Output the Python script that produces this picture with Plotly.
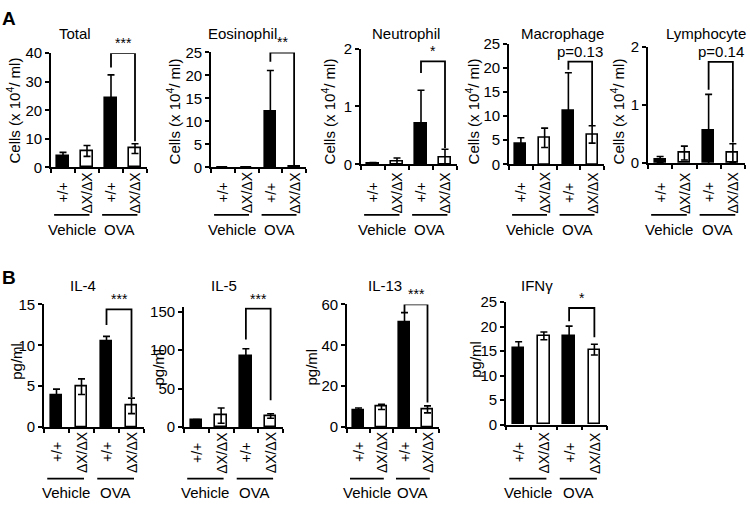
import numpy as np
import plotly.graph_objects as go

# ---------------- data ----------------
genotypes = ["+/+", "ΔX/ΔX", "+/+", "ΔX/ΔX"]
treatments = ["Vehicle", "OVA"]
bar_fill = ["black", "white", "black", "white"]

total_mean = [4.0, 5.8, 24.4, 6.6]
total_err = [1.3, 1.9, 8.0, 1.7]
eos_mean = [0.05, 0.05, 12.2, 0.2]
eos_err = [0.03, 0.03, 8.9, 0.1]
neu_mean = [0.02, 0.055, 0.71, 0.11]
neu_err = [0.01, 0.055, 0.57, 0.15]
mac_mean = [4.2, 5.5, 11.1, 6.2]
mac_err = [1.3, 2.0, 7.9, 1.8]
lym_mean = [0.06, 0.17, 0.56, 0.17]
lym_err = [0.05, 0.12, 0.62, 0.16]
il4_mean = [3.85, 4.95, 10.5, 2.6]
il4_err = [0.8, 0.95, 0.6, 0.95]
il5_mean = [9, 15, 92, 14.5]
il5_err = [1, 10, 10, 3]
il13_mean = [8.4, 9.9, 51, 8.7]
il13_err = [1.0, 1.3, 5.0, 1.7]
ifng_mean = [15.7, 18.1, 18.1, 15.3]
ifng_err = [1.2, 0.8, 2.0, 1.1]

# brackets: [top, left-leg end, right-leg end] in data units
total_br = [40, 35, 9.2]
eos_br = [25, 23, 0.4]
neu_br = [1.78, 1.58, 0.28]
mac_br = [21.3, 19.6, 8.1]
lym_br = [1.74, 1.26, 0.35]
il4_br = [14.4, 12.5, 3.7]
il5_br = [154, 114, 35]
il13_br = [60, 56, 12]
ifng_br = [23.8, 21.1, 17.8]
sig_labels = ["***", "**", "*", "p=0.13", "p=0.14", "***", "***", "***", "*"]

cells_label = "Cells (x 10<sup>4</sup>/ ml)"
conc_label = "pg/ml"

# ---------------- layout helpers ----------------
W, H = 750, 506
FONT = "Arial, Liberation Sans, sans-serif"


def fx(p):
    return p / W


def fy(p):
    return 1 - p / H


panels = [
    dict(title="Total", ylab=cells_label, mean=total_mean, err=total_err, ymax=40, dtick=10, br=total_br,
         ax=(51, 147), ay=(45.7, 164), tpos=(75, 25), lpos=(13, 105), cat=190, line=213, grp=228),
    dict(title="Eosinophil", ylab=cells_label, mean=eos_mean, err=eos_err, ymax=25, dtick=5, br=eos_br,
         ax=(211, 306), ay=(45, 164), tpos=(242, 25), lpos=(173, 106), cat=190, line=213, grp=228),
    dict(title="Neutrophil", ylab=cells_label, mean=neu_mean, err=neu_err, ymax=2, dtick=1, br=neu_br,
         ax=(361, 457), ay=(41, 160.7), tpos=(406, 25), lpos=(328, 106), cat=190, line=213, grp=228),
    dict(title="Macrophage", ylab=cells_label, mean=mac_mean, err=mac_err, ymax=25, dtick=5, br=mac_br,
         ax=(509, 604), ay=(36, 160.7), tpos=(562, 25), lpos=(472, 106), cat=190, line=213, grp=228),
    dict(title="Lymphocyte", ylab=cells_label, mean=lym_mean, err=lym_err, ymax=2, dtick=1, br=lym_br,
         ax=(648, 745), ay=(39, 159.3), tpos=(706, 25), lpos=(617, 106), cat=190, line=213, grp=228),
    dict(title="IL-4", ylab=conc_label, mean=il4_mean, err=il4_err, ymax=15, dtick=5, br=il4_br,
         ax=(44, 144), ay=(305.7, 432.7), tpos=(83, 286), lpos=(17, 365), cat=459, line=486, grp=500),
    dict(title="IL-5", ylab=conc_label, mean=il5_mean, err=il5_err, ymax=150, dtick=50, br=il5_br,
         ax=(184, 283), ay=(313.3, 432.7), tpos=(224, 286), lpos=(159, 371), cat=459, line=486, grp=500,
         ylim=156),
    dict(title="IL-13", ylab=conc_label, mean=il13_mean, err=il13_err, ymax=60, dtick=20, br=il13_br,
         ax=(347, 439), ay=(305.7, 432.7), tpos=(385, 286), lpos=(312, 371), cat=459, line=486, grp=500),
    dict(title="IFNγ", ylab=conc_label, mean=ifng_mean, err=ifng_err, ymax=25, dtick=5, br=ifng_br,
         ax=(506, 607), ay=(303.3, 430), tpos=(537, 286), lpos=(476, 363), cat=459, line=486, grp=500),
]

fig = go.Figure()
annotations = []
shapes = []
layout_axes = {}

for i, p in enumerate(panels):
    n = i + 1
    xa = "x" if n == 1 else f"x{n}"
    ya = "y" if n == 1 else f"y{n}"
    xpos = np.arange(len(genotypes)) + 0.5

    fig.add_trace(go.Bar(
        x=xpos, y=p["mean"], width=0.46, xaxis=xa, yaxis=ya,
        marker=dict(color=bar_fill, line=dict(color="black", width=1.6)),
        error_y=dict(type="data", array=p["err"], color="black", thickness=1.6, width=3.5),
        showlegend=False, hoverinfo="skip",
    ))
    top, lend, rend = p["br"]
    fig.add_trace(go.Scatter(
        x=[xpos[2], xpos[2], xpos[3], xpos[3]], y=[lend, top, top, rend],
        mode="lines", line=dict(color="black", width=1.8), xaxis=xa, yaxis=ya,
        showlegend=False, hoverinfo="skip",
    ))
    annotations.append(dict(x=(xpos[2] + xpos[3]) / 2, y=top, xref=xa, yref=ya, text=sig_labels[i],
                            showarrow=False, yanchor="bottom", xanchor="center",
                            font=dict(size=15 if sig_labels[i].startswith("p") else 14, color="black", family=FONT)))

    # axis extent: tick top (ymax) sits at ay[0]; optional extra headroom ylim
    ylim = p.get("ylim", p["ymax"])
    pix_per_unit = (p["ay"][1] - p["ay"][0]) / p["ymax"]
    top_px = p["ay"][1] - ylim * pix_per_unit

    layout_axes["xaxis" if n == 1 else f"xaxis{n}"] = dict(
        domain=[fx(p["ax"][0]), fx(p["ax"][1])], anchor=ya, range=[0, 4],
        tickvals=list(range(5)), ticks="outside", ticklen=4, tickwidth=1.6, tickcolor="black",
        showticklabels=False, showline=True, linecolor="black", linewidth=1.8,
        showgrid=False, zeroline=False, fixedrange=True)
    layout_axes["yaxis" if n == 1 else f"yaxis{n}"] = dict(
        domain=[fy(p["ay"][1]), fy(top_px)], anchor=xa, range=[0, ylim],
        tickvals=list(np.arange(0, p["ymax"] + p["dtick"] / 2, p["dtick"])),
        ticks="outside", ticklen=4, tickwidth=1.6, tickcolor="black",
        tickfont=dict(size=15, color="black", family=FONT),
        showline=True, linecolor="black", linewidth=1.8,
        showgrid=False, zeroline=False, fixedrange=True)

    # title
    annotations.append(dict(x=fx(p["tpos"][0]), y=fy(p["tpos"][1]), xref="paper", yref="paper",
                            text=p["title"], showarrow=False, xanchor="center", yanchor="middle",
                            font=dict(size=15, color="black", family=FONT)))
    # y label
    annotations.append(dict(x=fx(p["lpos"][0]), y=fy(p["lpos"][1]), xref="paper", yref="paper",
                            text=p["ylab"], showarrow=False, textangle=-90, xanchor="center", yanchor="middle",
                            font=dict(size=15, color="black", family=FONT)))
    # genotype labels
    for k, g in enumerate(genotypes):
        annotations.append(dict(x=xpos[k], y=fy(p["cat"]), xref=xa, yref="paper", text=g,
                                showarrow=False, textangle=-90, xanchor="center", yanchor="middle",
                                font=dict(size=14, color="black", family=FONT)))
    # treatment groups
    for k, t in enumerate(treatments):
        x0 = 2 * k + 0.13
        x1 = 2 * k + 1.6
        shapes.append(dict(type="line", xref=xa, yref="paper", x0=x0, x1=x1,
                           y0=fy(p["line"]), y1=fy(p["line"]), line=dict(color="black", width=1.6)))
        annotations.append(dict(x=(x0 + x1) / 2, y=fy(p["grp"]), xref=xa, yref="paper", text=t,
                                showarrow=False, xanchor="center", yanchor="middle",
                                font=dict(size=15, color="black", family=FONT)))

# panel letters
annotations.append(dict(x=fx(9), y=fy(10), xref="paper", yref="paper", text="<b>A</b>", showarrow=False,
                        xanchor="center", yanchor="middle", font=dict(size=19, color="black", family=FONT)))
annotations.append(dict(x=fx(9), y=fy(278), xref="paper", yref="paper", text="<b>B</b>", showarrow=False,
                        xanchor="center", yanchor="middle", font=dict(size=19, color="black", family=FONT)))

fig.update_layout(
    width=W, height=H, margin=dict(l=0, r=0, t=0, b=0),
    paper_bgcolor="white", plot_bgcolor="white",
    font=dict(family=FONT, color="black"),
    annotations=annotations, shapes=shapes, bargap=0, **layout_axes,
)

fig.write_html("out.html", config={"displayModeBar": False},
               post_script="document.body.style.margin='0';document.body.style.overflow='hidden';")
